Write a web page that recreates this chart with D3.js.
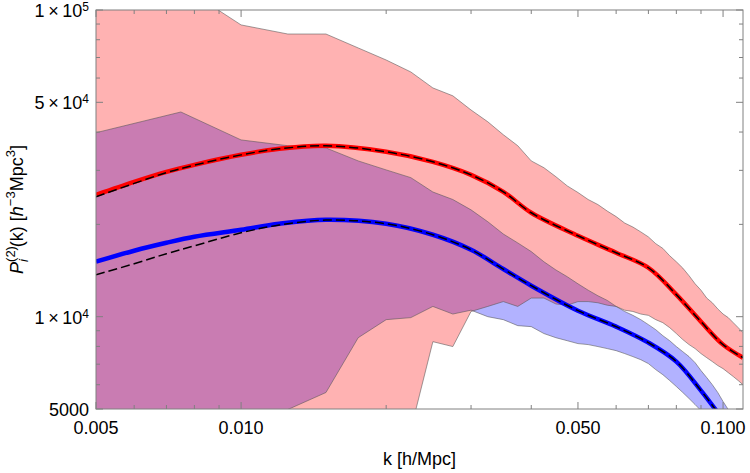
<!DOCTYPE html>
<html>
<head>
<meta charset="utf-8">
<script src="https://cdn.jsdelivr.net/npm/d3@7"></script>
<style>
  body { margin: 0; background: #fff; }
  svg text { font-family: "Liberation Sans", Arial, sans-serif; fill: #000; }
</style>
</head>
<body>
<svg width="750" height="473"></svg>
<script>
// k bins of the measured bands (h/Mpc)
var kBins = [0.005, 0.0075, 0.01, 0.0125, 0.015, 0.0175, 0.02, 0.0225, 0.025, 0.0275,
    0.03, 0.0325, 0.035, 0.0375, 0.04, 0.0425, 0.045, 0.0475, 0.05, 0.0525,
    0.055, 0.0575, 0.06, 0.0625, 0.065, 0.0675, 0.07, 0.0725, 0.075, 0.0775,
    0.08, 0.0825, 0.085, 0.0875, 0.09, 0.0925, 0.095, 0.0975, 0.1, 0.1025,
    0.105, 0.1075, 0.11];

// red band (upper / lower)
var redHi = [130000, 120000, 89400, 83500, 83500, 75200, 68700, 62800, 55700, 52500,
    47200, 43200, 39200, 36100, 32200, 30600, 28600, 26700, 25400, 24100,
    23200, 22100, 21200, 20200, 19600, 18900, 18200, 17300, 16700, 15800,
    15100, 14400, 13600, 12800, 12200, 11500, 11100, 10600, 10200, 9930,
    9560, 9210, 8870];
var redLo = [3000, 3000, 3000, 3000, 3000, 3000, 3000, 4280, 8290, 7990,
    10400, 10800, 11200, 10800, 11500, 11500, 11000, 10900, 11200, 11200,
    11100, 10900, 10800, 10500, 10400, 10200, 10100, 9780, 9560, 9210,
    8810, 8420, 8110, 7870, 7580, 7350, 7140, 6930, 6770, 6570,
    6380, 6190, 6000];

// blue band (upper / lower)
var blueHi = [39800, 46500, 37700, 36100, 35500, 32200, 30100, 28400, 25500, 24100,
    22300, 20400, 18600, 17400, 16300, 15100, 14200, 13500, 12800, 12200,
    11700, 11300, 10800, 10400, 10100, 9780, 9420, 9070, 8670, 8350,
    7990, 7690, 7410, 7080, 6670, 6330, 6000, 5660, 5290, 4980,
    4690, 4420, 4160];
var blueLo = [2730, 2950, 3420, 4980, 5660, 8540, 9780, 9930, 10800, 10200,
    10500, 10000, 9780, 9350, 9280, 8810, 8540, 8350, 8170, 8110,
    7990, 7870, 7750, 7580, 7410, 7240, 7030, 6720, 6470, 6190,
    5920, 5660, 5410, 5170, 4940, 4690, 4450, 4220, 4040, 3860,
    3690, 3530, 3370];

// smooth curves
var kLine = [0.005, 0.006, 0.007, 0.008, 0.01, 0.012, 0.015, 0.02, 0.025, 0.03,
    0.035, 0.04, 0.05, 0.06, 0.07, 0.08, 0.09, 0.1, 0.11];
var redMean = [24970, 27530, 29670, 31270, 33710, 35260, 36060, 34480, 31980, 29010,
    25540, 21820, 18360, 16160, 14440, 11800, 9630, 8107, 7350];
var redModel = [24600, 27200, 29500, 31200, 33700, 35260, 36060, 34480, 31980, 29010,
    25540, 21820, 18360, 16160, 14440, 11800, 9630, 8107, 7350];
var blueMean = [15110, 16410, 17420, 18230, 19210, 20090, 20700, 20090, 18500, 16530,
    14300, 12620, 10460, 9278, 8228, 7136, 5741, 4618, 3800];
var blueModel = [13700, 14880, 16040, 17030, 18770, 19900, 20650, 20090, 18500, 16530,
    14300, 12620, 10460, 9278, 8228, 7136, 5741, 4618, 3800];

// ticks
var xMajor = [0.005, 0.01, 0.05, 0.1];
var xMajorLabels = ["0.005", "0.010", "0.050", "0.100"];
var xMinor = [0.006, 0.007, 0.008, 0.009, 0.02, 0.03, 0.04, 0.06, 0.07, 0.08, 0.09];
var yMajor = [5000, 10000, 50000, 100000];
var yMajorLabels = [["5000", ""], ["1\u2009\u00d7\u200910", "4"], ["5\u2009\u00d7\u200910", "4"], ["1\u2009\u00d7\u200910", "5"]];
var yMinor = [6000, 7000, 8000, 9000, 20000, 30000, 40000, 60000, 70000, 80000, 90000];

var pLeft = 96, pRight = 743, pTop = 10, pBottom = 409;

var svg = d3.select('svg');

var x = d3.scaleLog().domain([0.005, 0.11]).range([pLeft, pRight]);
var y = d3.scaleLog().domain([5000, 100000]).range([pBottom, pTop]);

svg.append('clipPath').attr('id', 'clip')
    .append('rect')
    .attr('x', pLeft).attr('y', pTop)
    .attr('width', pRight - pLeft).attr('height', pBottom - pTop);

var plot = svg.append('g').attr('clip-path', 'url(#clip)');

function band(lo, hi, color) {
    var data = kBins.map(function(k, i) { return {k: k, lo: lo[i], hi: hi[i]}; });
    var area = d3.area()
        .x(function(d) { return x(d.k); })
        .y0(function(d) { return y(d.lo); })
        .y1(function(d) { return y(d.hi); });
    plot.append('path').datum(data)
        .attr('d', area)
        .attr('fill', color)
        .attr('fill-opacity', 0.3);
}
band(blueLo, blueHi, '#0000ff');
band(redLo, redHi, '#ff0000');

// band edges
var edge = d3.line()
    .x(function(d) { return x(d[0]); })
    .y(function(d) { return y(d[1]); });
[blueLo, blueHi, redLo, redHi].forEach(function(arr) {
    plot.append('path')
        .datum(kBins.map(function(k, i) { return [k, arr[i]]; }))
        .attr('d', edge)
        .attr('fill', 'none')
        .attr('stroke', '#555')
        .attr('stroke-opacity', 0.8)
        .attr('stroke-width', 0.7);
});

var curve = d3.line()
    .curve(d3.curveCatmullRom.alpha(0.5))
    .x(function(d) { return x(d[0]); })
    .y(function(d) { return y(d[1]); });

function drawLine(vals, color, width, dash) {
    var p = plot.append('path')
        .datum(kLine.map(function(k, i) { return [k, vals[i]]; }))
        .attr('d', curve)
        .attr('fill', 'none')
        .attr('stroke', color)
        .attr('stroke-width', width);
    if (dash) p.attr('stroke-dasharray', dash);
}
drawLine(blueMean, '#0000ff', 4.5);
drawLine(blueModel, '#000', 1.5, '9,4');
drawLine(redMean, '#ff0000', 4.5);
drawLine(redModel, '#000', 1.5, '9,4');

// frame
svg.append('rect')
    .attr('x', pLeft).attr('y', pTop)
    .attr('width', pRight - pLeft).attr('height', pBottom - pTop)
    .attr('fill', 'none')
    .attr('stroke', '#808080')
    .attr('stroke-width', 1);

var ticks = svg.append('g').attr('stroke', '#808080').attr('stroke-width', 1);

function xTick(k, len) {
    ticks.append('line').attr('x1', x(k)).attr('x2', x(k)).attr('y1', pBottom).attr('y2', pBottom - len);
    ticks.append('line').attr('x1', x(k)).attr('x2', x(k)).attr('y1', pTop).attr('y2', pTop + len);
}
function yTick(v, len) {
    ticks.append('line').attr('y1', y(v)).attr('y2', y(v)).attr('x1', pLeft).attr('x2', pLeft + len);
    ticks.append('line').attr('y1', y(v)).attr('y2', y(v)).attr('x1', pRight).attr('x2', pRight - len);
}
xMajor.forEach(function(k) { xTick(k, 7); });
xMinor.forEach(function(k) { xTick(k, 4); });
yMajor.forEach(function(v) { yTick(v, 7); });
yMinor.forEach(function(v) { yTick(v, 4); });

// x tick labels
svg.selectAll('.xl')
    .data(xMajor)
    .enter()
    .append('text')
    .attr('x', function(d) { return x(d); })
    .attr('y', 434)
    .attr('text-anchor', 'middle')
    .attr('font-size', 18)
    .text(function(d, i) { return xMajorLabels[i]; });

// y tick labels
yMajor.forEach(function(v, i) {
    var t = svg.append('text')
        .attr('x', 89)
        .attr('y', y(v) + 7)
        .attr('text-anchor', 'end')
        .attr('font-size', 18);
    t.append('tspan').text(yMajorLabels[i][0]);
    if (yMajorLabels[i][1]) {
        t.append('tspan').attr('font-size', 12).attr('dy', -6).text(yMajorLabels[i][1]);
    }
});

// axis titles
svg.append('text')
    .attr('x', (pLeft + pRight) / 2)
    .attr('y', 465)
    .attr('text-anchor', 'middle')
    .attr('font-size', 18)
    .text('k [h/Mpc]');

var yl = svg.append('text')
    .attr('transform', 'translate(23,' + ((pTop + pBottom) / 2) + ') rotate(-90)')
    .attr('text-anchor', 'middle')
    .attr('font-size', 18);
yl.append('tspan').attr('font-style', 'italic').text('P');
yl.append('tspan').attr('font-size', 13).attr('dy', -8).text('(2)');
yl.append('tspan').attr('font-size', 13).attr('font-style', 'italic').attr('dx', -16).attr('dy', 13).text('i');
yl.append('tspan').attr('dx', 12).attr('dy', -5).text('(k) [');
yl.append('tspan').attr('font-style', 'italic').text('h');
yl.append('tspan').attr('font-size', 13).attr('dy', -8).text('\u22123');
yl.append('tspan').attr('dy', 8).text('Mpc');
yl.append('tspan').attr('font-size', 13).attr('dy', -8).text('3');
yl.append('tspan').attr('dy', 8).text(']');
</script>
</body>
</html>
